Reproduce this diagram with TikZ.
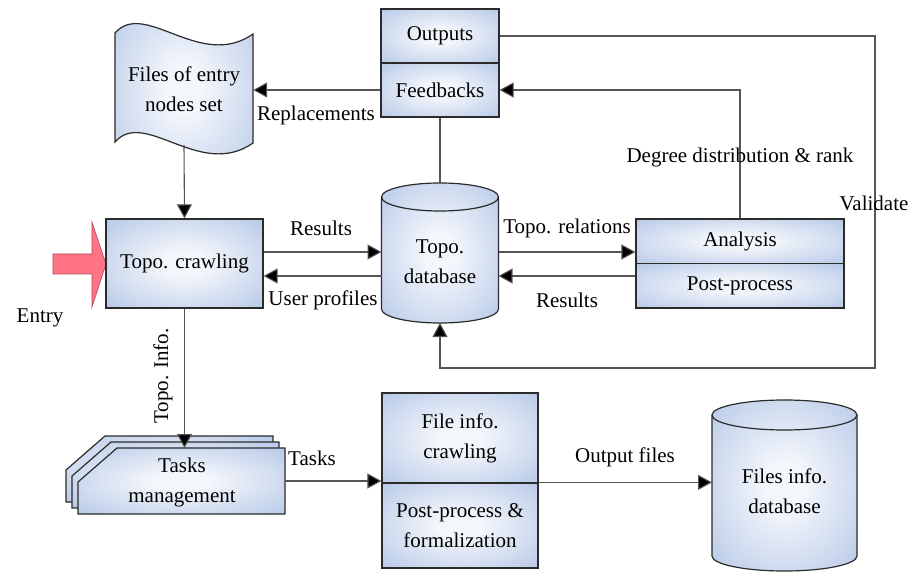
\documentclass[tikz,border=0pt]{standalone}
\usepackage{fontspec}
\setmainfont{Liberation Serif}
\usetikzlibrary{arrows.meta}
\definecolor{boxin}{HTML}{F3F6FB}
\definecolor{boxout}{HTML}{AABFE3}
\definecolor{edgec}{HTML}{2B2B2B}
\definecolor{linec}{HTML}{555555}
\definecolor{entryc}{HTML}{FF7385}
\definecolor{entryd}{HTML}{B04A5A}
\pgfdeclareradialshading{boxsh}{\pgfpoint{0bp}{0bp}}{color(0bp)=(boxin); color(7bp)=(boxin); color(42bp)=(boxout); color(75bp)=(boxout)}
\newcommand\dfont{\fontsize{21}{30}\selectfont}
\begin{document}
\begin{tikzpicture}[x=1pt,y=-1pt,
  bx/.style={draw=edgec, line width=1.2pt, shade, shading=boxsh, font=\dfont, align=center, inner sep=0pt},
  shp/.style={draw=edgec, line width=1.2pt, shade, shading=boxsh},
  lbl/.style={font=\dfont, align=center, inner sep=0pt},
  ghost/.style={inner sep=0pt, outer sep=0pt},
  ln/.style={draw=linec, line width=1.1pt},
  arr/.style={ln, -{Triangle[length=14pt,width=15pt,fill=black]}}]
\useasboundingbox (0,0) rectangle (924,572);

% Files of entry nodes set (tape)
\path[shp] (115,33) .. controls (145,-1) and (200,71) .. (253,34)
  -- (253,143) .. controls (200,180) and (145,108) .. (115,142) -- cycle;
\node[lbl, minimum width=138pt, minimum height=112pt] (fe) at (184,89) {Files of entry\\nodes set};

% Entry arrow
\path[fill=entryc, draw=entryd, line width=0.6pt] (53,254) -- (92,254) -- (92,222) -- (106,264)
  -- (92,307) -- (92,274) -- (53,274) -- cycle;
\node[lbl] (entry) at (40,318) {Entry};

% boxes
\node[bx, minimum width=157pt, minimum height=89pt] (crawl) at (184.5,263.5) {Topo. crawling};
\node[bx, minimum width=118pt, minimum height=54pt] (outp) at (440,36) {Outputs};
\node[bx, minimum width=118pt, minimum height=54pt] (feed) at (440,90) {Feedbacks};
\node[bx, minimum width=208pt, minimum height=44.5pt] (ana) at (740,241.25) {Analysis};
\node[bx, minimum width=208pt, minimum height=44.5pt] (post) at (740,285.75) {Post-process};
\node[bx, minimum width=156pt, minimum height=90pt] (fi) at (460,438) {File info.\\crawling};
\node[bx, minimum width=156pt, minimum height=85pt] (pp) at (460,525.5) {Post-process \&\\formalization};

% Topo. database cylinder
\path[shp] (381.5,197) -- (381.5,309) arc[start angle=180,end angle=360,x radius=58.5pt,y radius=14pt]
  -- (498.5,197) arc[start angle=0,end angle=180,x radius=58.5pt,y radius=14pt] -- cycle;
\draw[edgec, line width=1.2pt] (381.5,197) arc[start angle=180,end angle=360,x radius=58.5pt,y radius=14pt];
\node[ghost, minimum width=117pt, minimum height=140pt] (tdb) at (440,253) {};
\node[lbl] (tdbt) at (440,262) {Topo.\\database};

% Files info. database cylinder
\path[shp] (712,415) -- (712,556) arc[start angle=180,end angle=360,x radius=72.5pt,y radius=15pt]
  -- (857,415) arc[start angle=0,end angle=180,x radius=72.5pt,y radius=15pt] -- cycle;
\draw[edgec, line width=1.2pt] (712,415) arc[start angle=180,end angle=360,x radius=72.5pt,y radius=15pt];
\node[ghost, minimum width=145pt, minimum height=176pt] (fdb) at (784.5,483) {};
\node[lbl] (fdbt) at (784.5,491) {Files info.\\database};

% Tasks management (stacked)
\foreach \d in {12,6,0}{
  \path[shp] ({78-\d},{482-\d}) -- ({117-\d},{448-\d}) -- ({285-\d},{448-\d}) -- ({285-\d},{514-\d}) -- ({78-\d},{514-\d}) -- cycle;
}
\node[ghost, minimum width=207pt, minimum height=66pt] (tm) at (181.5,481) {};
\node[lbl] (tmt) at (182,482) {Tasks\\management};

% connectors
\draw[arr] (fe.south) -- (crawl.north);
\draw[arr] (feed.west) -- (feed.west -| fe.east);
\draw[ln] (feed.south) -- (tdb.north);
\draw[arr] (crawl.east |- 0,252) -- (tdb.west |- 0,252);
\draw[arr] (tdb.west |- 0,276) -- (crawl.east |- 0,276);
\draw[arr] (tdb.east |- 0,252) -- (ana.west |- 0,252);
\draw[arr] (ana.west |- 0,276) -- (tdb.east |- 0,276);
\draw[arr] (ana.north) |- (feed.east);
\coordinate (vc) at (875,368);
\draw[arr] (outp.east) -| (vc) -| (tdb.south);
\draw[arr] (crawl.south) -- (crawl.south |- tm.north);
\draw[arr] (tm.east) -- (tm.east -| fi.west);
\draw[arr] (pp.north east) -- (pp.north east -| fdb.west);

% labels
\node[lbl] (lrep) at (316,115) {Replacements};
\node[lbl] (lres1) at (321,228) {Results};
\node[lbl] (lup) at (323,300) {User profiles};
\node[lbl] (ltr) at (567,228) {Topo. relations};
\node[lbl] (lres2) at (567,300) {Results};
\node[lbl] (ldeg) at (740,157) {Degree distribution \& rank};
\node[lbl] (lval) at (874,203) {Validate};
\node[lbl, rotate=90] (lti) at (163,376) {Topo. Info.};
\node[lbl] (ltask) at (312,458) {Tasks};
\node[lbl] (lout) at (625,457) {Output files};
\end{tikzpicture}
\end{document}
